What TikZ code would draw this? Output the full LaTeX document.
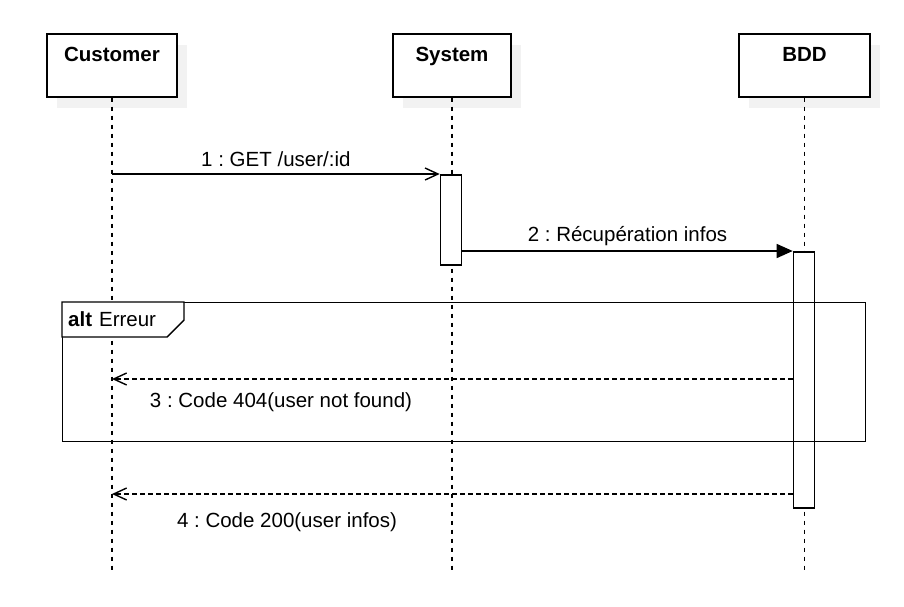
\documentclass[tikz,border=0pt]{standalone}
\usepackage{fontspec}
\setmainfont{Liberation Sans}
\usetikzlibrary{positioning, arrows.meta, shadows}
\frenchspacing

\begin{document}
\begin{tikzpicture}[x=1pt, y=-1pt, font=\fontsize{20.5}{24}\selectfont,
        actor/.style={draw, line width=1.6pt, fill=white, anchor=north,
            font=\fontsize{20.5}{24}\selectfont\bfseries, minimum height=63pt,
            inner sep=0pt, text height=28pt, text depth=35pt,
            drop shadow={shadow xshift=10pt, shadow yshift=-11pt, fill=black!5, opacity=1}},
        lifeline/.style={line width=1.5pt, dash pattern=on 4.5pt off 4.5pt},
        actbar/.style={draw, line width=1.6pt, fill=white, anchor=north, minimum width=21pt, inner sep=0pt},
        callmsg/.style={line width=1.4pt, -{Straight Barb[length=13pt, width=12pt, line width=1.4pt]}},
        syncmsg/.style={line width=1.4pt, -{Triangle[length=16pt, width=14pt]}},
        replymsg/.style={callmsg, dash pattern=on 4.5pt off 3.5pt},
        msglbl/.style={anchor=base, inner sep=0pt}]
            \useasboundingbox (0,0) rectangle (904,606);
            % participants
            \node (cust) [actor, minimum width=130pt] at (112,33) {Customer};
            \node (sys) [actor, minimum width=118pt] at (452,33) {System};
            \node (bdd) [actor, minimum width=131pt] at (804.5,33) {BDD};
            \coordinate (bottom) at (0,572);
            \foreach \p in {cust, sys, bdd}
                \draw[lifeline] (\p.south) -- (\p.south |- bottom);
            % activations
            \node (sysact) [actbar, minimum height=90pt] at (451,174) {};
            \node (bddact) [actbar, minimum height=256pt] at (804,251) {};
            % alt fragment
            \node (frame) [draw, line width=1.4pt, anchor=north west, minimum width=803pt,
                minimum height=139pt, inner sep=0pt] at (62,302) {};
            \draw[line width=1.4pt, fill=white] (frame.north west) -- (184,302) -- (184,320)
                -- (167,337) -- (62,337) -- cycle;
            \node (altlbl) [anchor=base west, inner sep=0pt] at (68,326) {\textbf{alt}\hspace{7pt}Erreur};
            % messages
            \draw[callmsg] (cust.south |- sysact.north) -- (sysact.north west)
                node[msglbl, midway, yshift=8pt] {1 : GET /user/:id};
            \draw[syncmsg] (sysact.east |- bddact.north) -- (bddact.north west)
                node[msglbl, midway, yshift=9.5pt] {2 : Récupération infos};
            \coordinate (r404) at (0,379);
            \coordinate (r200) at (0,494);
            \draw[replymsg] (bddact.west |- r404) -- (cust.south |- r404);
            \node (lbl404) [msglbl] at (281,407) {3 : Code 404(user not found)};
            \draw[replymsg] (bddact.west |- r200) -- (cust.south |- r200);
            \node (lbl200) [msglbl] at (287,527) {4 : Code 200(user infos)};
\end{tikzpicture}
\end{document}
